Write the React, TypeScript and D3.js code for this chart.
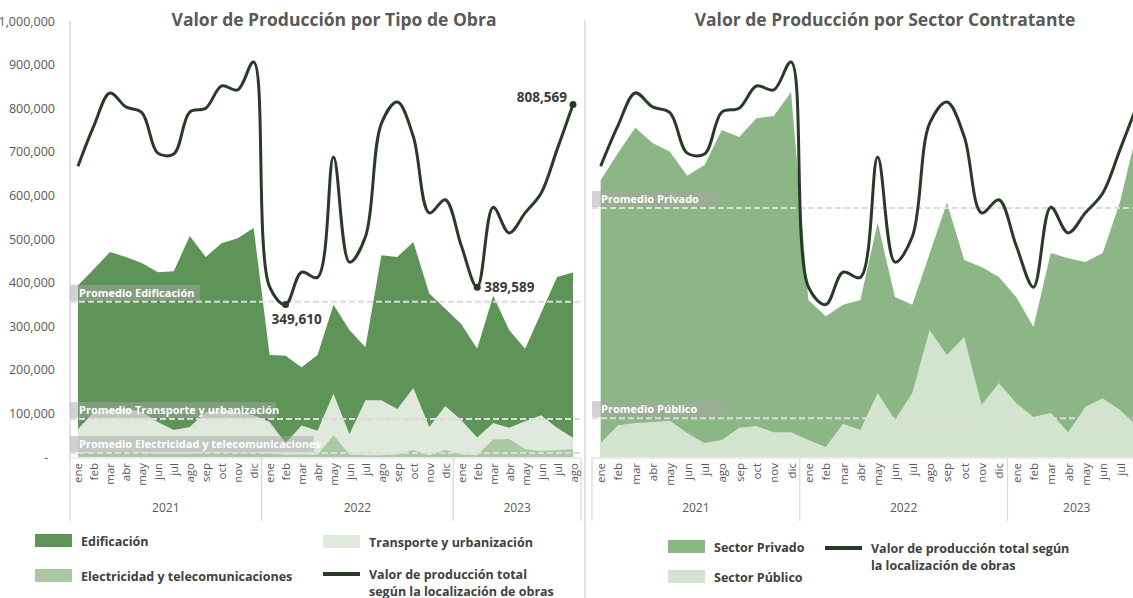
import * as d3 from 'd3'

// periodos: 2021 completo, 2022 completo, 2023 hasta agosto
const meses = ['ene', 'feb', 'mar', 'abr', 'may', 'jun', 'jul', 'ago', 'sep', 'oct', 'nov', 'dic']
const anios = ['2021', '2022', '2023']
const mesesPorAnio = [12, 12, 8]
const periodos = anios.flatMap((a, i) => meses.slice(0, mesesPorAnio[i]).map(m => `${a}-${m}`))

// valor de producción total según la localización de obras
const totalObras = [
  667000, 760000, 835000, 803000, 790000, 697000, 695000, 791000, 800000, 851000, 842000, 906000,
  390000, 349610, 424000, 412000, 688000, 447000, 505000, 765000, 814000, 735000, 560000, 590000,
  485000, 389589, 573000, 514000, 560000, 605000, 705000, 808569,
]

// por tipo de obra
const edificacion = [
  394000, 431000, 470000, 459000, 445000, 424000, 426000, 507000, 459000, 490000, 502000, 525000,
  234000, 232000, 206000, 234000, 349000, 291000, 252000, 463000, 459000, 493000, 375000, 340000,
  305000, 248000, 370000, 291000, 248000, 330000, 413000, 423000,
]
const transporte = [
  64000, 103000, 108000, 112000, 103000, 80000, 62000, 69000, 103000, 108000, 103000, 96000,
  80000, 32000, 72000, 60000, 145000, 52000, 130000, 130000, 110000, 158000, 69000, 117000,
  85000, 45000, 78000, 67000, 82000, 96000, 67000, 44000,
]
const electricidad = [
  8000, 10000, 12000, 12000, 10000, 8000, 8000, 8000, 10000, 10000, 10000, 10000,
  8000, 5000, 6000, 5000, 50000, 5000, 4000, 4000, 6000, 16000, 4000, 16000,
  6000, 4000, 40000, 41000, 18000, 14000, 16000, 18000,
]

// por sector contratante
const privado = [
  635000, 697000, 755000, 720000, 700000, 645000, 670000, 750000, 734000, 777000, 782000, 837000,
  360000, 323000, 349000, 360000, 537000, 367000, 349000, 466000, 583000, 452000, 436000, 413000,
  367000, 298000, 468000, 456000, 447000, 468000, 585000, 750000,
]
const publico = [
  32000, 73000, 78000, 80000, 83000, 55000, 32000, 39000, 67000, 71000, 57000, 57000,
  39000, 23000, 76000, 62000, 147000, 85000, 147000, 291000, 234000, 275000, 119000, 170000,
  124000, 92000, 101000, 57000, 115000, 135000, 108000, 70000,
]

// promedios
const promEdificacion = 356000
const promTransporte = 87000
const promElectricidad = 9000
const promPrivado = 571000
const promPublico = 89000

const yTicks = [0, 100000, 200000, 300000, 400000, 500000, 600000, 700000, 800000, 900000, 1000000]

const FONT = "'Open Sans', 'Noto Sans', sans-serif"
const GRIS = '#595959'
const LINEA = '#2a3a29'
const EJE = '#d9d9d9'

const C_EDIF = '#5e9457'
const C_TRANS = '#dfe9dc'
const C_ELEC = '#a9c8a3'
const C_PRIV = '#8cb685'
const C_PUB = '#d2e4ce'

const y = d3.scaleLinear().domain([0, 1000000]).range([457, 21])
const fmt = d3.format(',')

type Promedio = { value: number; label: string; boxW: number }
type Nota = { index: number; dx: number; dy: number; anchor: string }

function Panel({ left, right, title, titleX, areas, promedios, yAxis, notas }: {
  left: number; right: number; title: string; titleX: number
  areas: { values: number[]; color: string }[]
  promedios: Promedio[]; yAxis: boolean; notas: Nota[]
}) {
  const x = d3.scaleBand().domain(periodos).range([left, right])
  const cx = (i: number) => (x(periodos[i]) as number) + x.bandwidth() / 2

  const area = d3.area<number>()
    .x((_, i) => cx(i))
    .y0(y(0))
    .y1(d => y(d))

  const linea = d3.line<number>()
    .x((_, i) => cx(i))
    .y(d => y(d))
    .curve(d3.curveCatmullRom.alpha(0.5))

  // limites de cada año en el eje de categorías
  let acc = 0
  const grupos = anios.map((a, i) => {
    const x0 = x(periodos[acc]) as number
    acc += mesesPorAnio[i]
    const x1 = i === anios.length - 1 ? right : (x(periodos[acc]) as number)
    return { a, x0, x1 }
  })

  return (
    <g>
      <text x={titleX} y={26} textAnchor="middle" fontFamily={FONT} fontWeight={700}
        fontSize={17.5} fill={GRIS}>{title}</text>

      {yAxis && (
        <g>
          <line x1={left} x2={left} y1={21} y2={458} stroke={EJE} strokeWidth={1.5} />
          {yTicks.map(t => (
            <text key={t} x={t === 0 ? 48 : 55} y={y(t)} textAnchor="end" dominantBaseline="central"
              fontFamily={FONT} fontSize={12.5} fill={GRIS}>{t === 0 ? '-' : fmt(t)}</text>
          ))}
        </g>
      )}

      {areas.map((s, k) => (
        <path key={k} d={area(s.values) || ''} fill={s.color} />
      ))}

      {promedios.map((p, k) => (
        <g key={k}>
          <rect x={left} y={y(p.value) - 17} width={p.boxW} height={16}
            fill="#a6a6a6" fillOpacity={0.5} />
          <line x1={left} x2={right} y1={y(p.value)} y2={y(p.value)}
            stroke="#dcdcdc" strokeWidth={2} strokeDasharray="6 3" />
          <text x={left + 9} y={y(p.value) - 5} fontFamily={FONT} fontWeight={700}
            fontSize={11} fill="#ffffff">{p.label}</text>
        </g>
      ))}

      <path d={linea(totalObras) || ''} fill="none" stroke={LINEA} strokeWidth={3} />

      {notas.map(n => (
        <g key={n.index}>
          <circle cx={cx(n.index)} cy={y(totalObras[n.index])} r={3.5} fill={LINEA} />
          <text x={cx(n.index) + n.dx} y={y(totalObras[n.index]) + n.dy} textAnchor={n.anchor}
            dominantBaseline="central" fontFamily={FONT} fontWeight={700} fontSize={13.5}
            fill="#3a3a3a">{fmt(totalObras[n.index])}</text>
        </g>
      ))}

      {/* eje de categorías */}
      <line x1={left} x2={right} y1={458} y2={458} stroke={EJE} strokeWidth={1} />
      {grupos.map(g => (
        <g key={g.a}>
          <line x1={g.x0} x2={g.x0} y1={458} y2={521} stroke={EJE} strokeWidth={1.2} />
          <text x={(g.x0 + g.x1) / 2} y={507} textAnchor="middle" dominantBaseline="central"
            fontFamily={FONT} fontSize={12} fill={GRIS}>{g.a}</text>
        </g>
      ))}
      <line x1={right} x2={right} y1={458} y2={521} stroke={EJE} strokeWidth={1.2} />
      {periodos.map((p, i) => (
        <text key={p} transform={`translate(${cx(i)},${463}) rotate(-90)`} textAnchor="end"
          dominantBaseline="central" fontFamily={FONT} fontSize={11.5} fill={GRIS}>
          {p.split('-')[1]}
        </text>
      ))}
    </g>
  )
}

function Leyenda({ items }: { items: { x: number; y: number; color?: string; texto: string[] }[] }) {
  return (
    <g>
      {items.map((it, k) => (
        <g key={k}>
          {it.color
            ? <rect x={it.x} y={it.y - 7} width={37} height={13} fill={it.color} />
            : <line x1={it.x} x2={it.x + 37} y1={it.y} y2={it.y} stroke={LINEA} strokeWidth={4} />}
          {it.texto.map((t, j) => (
            <text key={j} x={it.x + 46} y={it.y + j * 17} dominantBaseline="central"
              fontFamily={FONT} fontWeight={700} fontSize={12.5} fill="#404040">{t}</text>
          ))}
        </g>
      ))}
    </g>
  )
}

export default function App() {
  return (
    <div style={{ position: 'absolute', left: 0, top: 0 }}>
      <svg width={1133} height={598} style={{ display: 'block', background: '#ffffff' }}>
        <Panel
          left={70} right={581}
          title="Valor de Producción por Tipo de Obra" titleX={334}
          areas={[
            { values: edificacion, color: C_EDIF },
            { values: transporte, color: C_TRANS },
            { values: electricidad, color: C_ELEC },
          ]}
          promedios={[
            { value: promEdificacion, label: 'Promedio Edificación', boxW: 130 },
            { value: promTransporte, label: 'Promedio Transporte y urbanización', boxW: 206 },
            { value: promElectricidad, label: 'Promedio Electricidad y telecomunicaciones', boxW: 244 },
          ]}
          yAxis
          notas={[
            { index: 13, dx: 11, dy: 14, anchor: 'middle' },
            { index: 25, dx: 7, dy: 0, anchor: 'start' },
            { index: 31, dx: -6, dy: -7, anchor: 'end' },
          ]}
        />
        <line x1={585} x2={585} y1={20} y2={598} stroke={EJE} strokeWidth={1.5} />
        <Panel
          left={592} right={1146}
          title="Valor de Producción por Sector Contratante" titleX={885}
          areas={[
            { values: privado, color: C_PRIV },
            { values: publico, color: C_PUB },
          ]}
          promedios={[
            { value: promPrivado, label: 'Promedio Privado', boxW: 126 },
            { value: promPublico, label: 'Promedio Público', boxW: 133 },
          ]}
          yAxis={false}
          notas={[]}
        />
        <Leyenda items={[
          { x: 35, y: 541, color: C_EDIF, texto: ['Edificación'] },
          { x: 35, y: 576, color: C_ELEC, texto: ['Electricidad y telecomunicaciones'] },
          { x: 323, y: 542, color: C_TRANS, texto: ['Transporte y urbanización'] },
          { x: 323, y: 574, texto: ['Valor de producción total', 'según la localización de obras'] },
          { x: 668, y: 547, color: C_PRIV, texto: ['Sector Privado'] },
          { x: 668, y: 577, color: C_PUB, texto: ['Sector Público'] },
          { x: 825, y: 548, texto: ['Valor de producción total según', 'la localización de obras'] },
        ]} />
      </svg>
    </div>
  )
}
